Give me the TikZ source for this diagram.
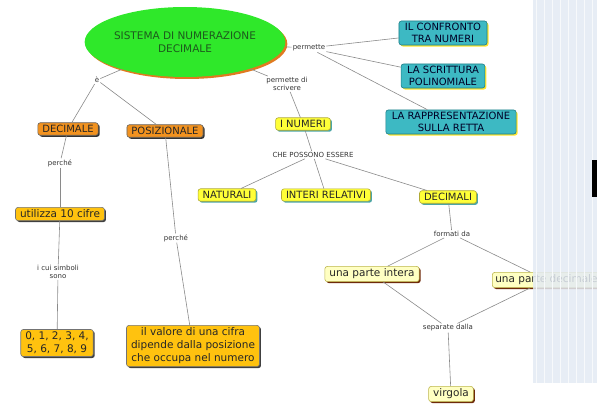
\documentclass[tikz,border=0pt]{standalone}
\usepackage{fontspec}
\setmainfont{DejaVu Sans}
\usetikzlibrary{shapes.geometric,shadows}

\definecolor{verde}{HTML}{2FE82A}
\definecolor{verdetesto}{HTML}{1D5A1D}
\definecolor{arancio}{HTML}{F2921F}
\definecolor{ombraar}{HTML}{E07A20}
\definecolor{azzurro}{HTML}{3DB9C3}
\definecolor{azzurrobordo}{HTML}{1F7F88}
\definecolor{giallo}{HTML}{FFFF38}
\definecolor{oro}{HTML}{FFC20F}
\definecolor{crema}{HTML}{FFFFC2}
\definecolor{marrone}{HTML}{6E2A0A}
\definecolor{pannello}{HTML}{E3EAF3}
\definecolor{linea}{HTML}{8A8A8A}

\tikzset{
  concetto/.style={rectangle, rounded corners=2.5pt, inner xsep=4.5pt, inner ysep=2.5pt,
    align=center, line width=0.6pt, font=\fontsize{10}{11.5}\selectfont},
  sistema/.style={ellipse, fill=verde, text=verdetesto, minimum width=166pt, minimum height=70pt,
    inner sep=0pt, align=center, font=\fontsize{10.5}{12.5}\selectfont,
    drop shadow={fill=ombraar, opacity=1, shadow xshift=2pt, shadow yshift=-2pt}},
  azzbox/.style={concetto, fill=azzurro, draw=azzurrobordo, text=black!85!blue, inner xsep=6pt,
    drop shadow={fill=giallo!80!orange, opacity=1, shadow xshift=1.5pt, shadow yshift=-1.5pt}},
  gialbox/.style={concetto, fill=giallo, draw=olive!70, text=black!85,
    drop shadow={fill=teal!70, opacity=1, shadow xshift=1.5pt, shadow yshift=-1.5pt}},
  arbox/.style={concetto, fill=arancio, draw=black!60, text=black!85,
    drop shadow={fill=black!80, opacity=1, shadow xshift=1.5pt, shadow yshift=-1.5pt}},
  orobox/.style={concetto, fill=oro, draw=black!55, text=black!85, font=\fontsize{10.5}{13}\selectfont,
    drop shadow={fill=black!75, opacity=1, shadow xshift=1.5pt, shadow yshift=-1.5pt}},
  cremabox/.style={concetto, fill=crema, draw=olive!60, text=black!85, font=\fontsize{10.5}{12}\selectfont,
    drop shadow={fill=marrone, opacity=1, shadow xshift=1.5pt, shadow yshift=-1.5pt}},
  etich/.style={inner sep=1pt, align=center, text=black!80, font=\fontsize{7}{8}\selectfont},
  link/.style={draw=linea, line width=0.6pt}
}

\begin{document}
\begin{tikzpicture}[x=1pt,y=-1pt]
  \useasboundingbox (0,0) rectangle (597,404);

  % centro
  \node[sistema] (sis) at (185,42) {SISTEMA DI NUMERAZIONE\\DECIMALE};

  % ramo permette
  \node[etich] (perm) at (309,48) {permette};
  \node[azzbox] (confr) at (443,33) {IL CONFRONTO\\TRA NUMERI};
  \node[azzbox] (scritt) at (443,76) {LA SCRITTURA\\POLINOMIALE};
  \node[azzbox] (rappr) at (451,122) {LA RAPPRESENTAZIONE\\SULLA RETTA};

  % ramo i numeri
  \node[etich] (scriv) at (287,84) {permette di\\scrivere};
  \node[gialbox] (numeri) at (303,124) {I NUMERI};
  \node[etich] (posson) at (313,155) {CHE POSSONO ESSERE};
  \node[gialbox] (natur) at (227,195) {NATURALI};
  \node[gialbox] (interi) at (326,195) {INTERI RELATIVI};
  \node[gialbox] (decimali) at (448,197) {DECIMALI};
  \node[etich] (formati) at (452,234) {formati da};
  \node[cremabox] (intera) at (372,274) {una parte intera};
  \node[cremabox, anchor=west, inner xsep=3pt] (pdec) at (492,280) {una parte decimale};
  \node[etich] (separ) at (448,328) {separate dalla};
  \node[cremabox] (virg) at (451,394) {virgola};

  % ramo e'
  \node[etich] (e) at (97,80) {è};
  \node[arbox] (decimale) at (68,129) {DECIMALE};
  \node[arbox] (posiz) at (165,131) {POSIZIONALE};
  \node[etich] (perche1) at (60,163) {perché};
  \node[orobox] (cifre) at (60,214) {utilizza 10 cifre};
  \node[etich] (simboli) at (58,272) {i cui simboli\\sono};
  \node[orobox] (zeronove) at (57,343) {0, 1, 2, 3, 4,\\5, 6, 7, 8, 9};
  \node[etich] (perche2) at (176,238) {perché};
  \node[orobox] (valore) at (193,346) {il valore di una cifra\\dipende dalla posizione\\che occupa nel numero};

  % collegamenti
  \draw[link] (sis) -- (perm);
  \draw[link] (perm) -- (confr);
  \draw[link] (perm) -- (scritt);
  \draw[link] (perm) -- (rappr);
  \draw[link] (sis) -- (scriv);
  \draw[link] (scriv) -- (numeri);
  \draw[link] (numeri) -- (posson);
  \draw[link] (posson) -- (natur);
  \draw[link] (posson) -- (interi);
  \draw[link] (posson) -- (decimali);
  \draw[link] (decimali) -- (formati);
  \draw[link] (formati) -- (intera);
  \draw[link] (formati) -- (pdec);
  \draw[link] (intera) -- (separ);
  \draw[link] (pdec) -- (separ);
  \draw[link] (separ) -- (virg);
  \draw[link] (sis) -- (e);
  \draw[link] (e) -- (decimale);
  \draw[link] (e) -- (posiz);
  \draw[link] (decimale) -- (perche1);
  \draw[link] (perche1) -- (cifre);
  \draw[link] (cifre) -- (simboli);
  \draw[link] (simboli) -- (zeronove);
  \draw[link] (posiz) -- (perche2);
  \draw[link] (perche2) -- (valore);

  % pannello a destra
  \fill[pannello, opacity=0.85] (533,0) rectangle (597,383);
  \draw[white!70!pannello, line width=0.2pt, step=8] (533,0) grid (597,383);
  \fill[black] (592,160) rectangle (597,197);
\end{tikzpicture}
\end{document}
